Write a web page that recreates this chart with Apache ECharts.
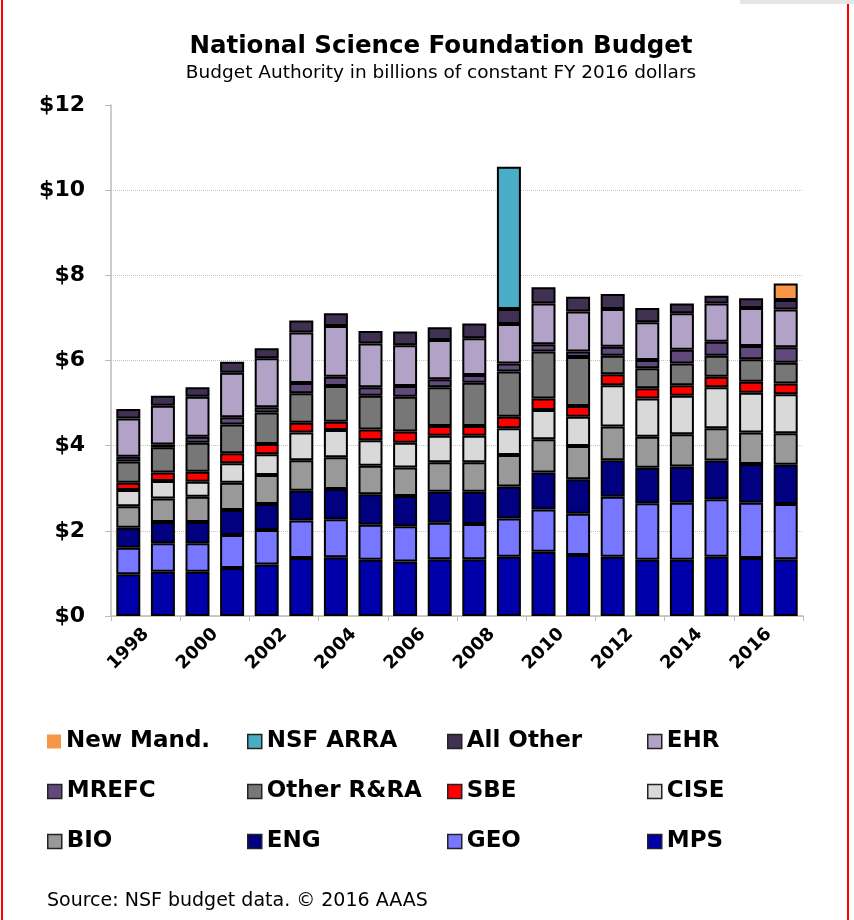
<!DOCTYPE html>
<html>
<head>
<meta charset="utf-8">
<script src="https://cdn.jsdelivr.net/npm/echarts@6/dist/echarts.min.js"></script>
<style>
  html, body { margin: 0; padding: 0; background: #fff; }
  #chart { width: 854px; height: 920px; }
</style>
</head>
<body>
<div id="chart"></div>
<script>
var years = ['1998','1999','2000','2001','2002','2003','2004','2005','2006','2007',
             '2008','2009','2010','2011','2012','2013','2014','2015','2016','2017'];
var yTicks = [0, 2, 4, 6, 8, 10, 12];

// billions of constant FY 2016 dollars
var mps      = [0.98, 1.04, 1.04, 1.13, 1.21, 1.36, 1.38, 1.32, 1.28, 1.33, 1.33, 1.39, 1.51, 1.43, 1.39, 1.32, 1.32, 1.39, 1.36, 1.33];
var geo      = [0.62, 0.67, 0.67, 0.77, 0.81, 0.88, 0.89, 0.82, 0.83, 0.86, 0.83, 0.90, 0.99, 0.97, 1.41, 1.33, 1.34, 1.35, 1.30, 1.30];
var eng      = [0.47, 0.50, 0.50, 0.59, 0.61, 0.70, 0.71, 0.72, 0.71, 0.73, 0.76, 0.75, 0.87, 0.81, 0.86, 0.83, 0.85, 0.91, 0.91, 0.92];
var bio      = [0.51, 0.55, 0.59, 0.64, 0.68, 0.72, 0.75, 0.67, 0.67, 0.69, 0.69, 0.74, 0.78, 0.78, 0.79, 0.73, 0.76, 0.76, 0.74, 0.74];
var cise     = [0.38, 0.41, 0.35, 0.46, 0.49, 0.65, 0.64, 0.60, 0.58, 0.62, 0.62, 0.63, 0.69, 0.69, 0.97, 0.90, 0.90, 0.96, 0.93, 0.92];
var sbe      = [0.17, 0.20, 0.24, 0.23, 0.24, 0.23, 0.19, 0.25, 0.26, 0.23, 0.23, 0.27, 0.27, 0.25, 0.26, 0.24, 0.25, 0.25, 0.26, 0.25];
var otherRRA = [0.50, 0.59, 0.68, 0.68, 0.74, 0.69, 0.84, 0.79, 0.82, 0.91, 1.02, 1.06, 1.10, 1.15, 0.43, 0.47, 0.51, 0.49, 0.53, 0.49];
var mrefc    = [0.11, 0.07, 0.14, 0.17, 0.12, 0.24, 0.22, 0.20, 0.25, 0.19, 0.18, 0.19, 0.17, 0.13, 0.21, 0.19, 0.32, 0.33, 0.31, 0.36];
var ehr      = [0.90, 0.91, 0.94, 1.04, 1.15, 1.19, 1.19, 1.03, 0.96, 0.92, 0.86, 0.93, 0.96, 0.94, 0.89, 0.89, 0.86, 0.90, 0.89, 0.89];
var allOther = [0.22, 0.23, 0.22, 0.26, 0.24, 0.28, 0.30, 0.29, 0.32, 0.30, 0.35, 0.35, 0.38, 0.35, 0.35, 0.33, 0.23, 0.18, 0.23, 0.22];
var arra     = ['-', '-', '-', '-', '-', '-', '-', '-', '-', '-', '-', 3.34, '-', '-', '-', '-', '-', '-', '-', '-'];
var newMand  = ['-', '-', '-', '-', '-', '-', '-', '-', '-', '-', '-', '-', '-', '-', '-', '-', '-', '-', '-', 0.39];

// legend grid, row by row
var legendRows = [
  ['New Mand.', 'NSF ARRA', 'All Other', 'EHR'],
  ['MREFC', 'Other R&RA', 'SBE', 'CISE'],
  ['BIO', 'ENG', 'GEO', 'MPS']
];

var font = 'DejaVu Sans';

var myChart = echarts.init(document.getElementById('chart'));

function seg(name, data, color) {
  return {
    name: name,
    type: 'bar',
    stack: 'total',
    barWidth: 24,
    data: data,
    itemStyle: {
      color: color,
      borderColor: '#000',
      borderWidth: 2
    }
  };
}

// one legend per entry so the columns line up like the original
var legends = [];
legendRows.forEach(function (row, r) {
  row.forEach(function (name, c) {
    var entry = name === 'New Mand.' ? { name: name, itemStyle: { borderWidth: 0 } } : name;
    legends.push({
      top: 725 + r * 50,
      left: 42 + c * 200,
      icon: 'rect',
      itemWidth: 14,
      itemHeight: 14,
      selectedMode: false,
      itemStyle: { borderColor: '#222', borderWidth: 1.5 },
      textStyle: { fontFamily: font, fontWeight: 'bold', fontSize: 23, color: '#000' },
      data: [entry]
    });
  });
});

var option = {
  backgroundColor: '#fff',
  animation: false,
  title: {
    text: 'National Science Foundation Budget',
    subtext: 'Budget Authority in billions of constant FY 2016 dollars',
    left: 436,
    textAlign: 'center',
    top: 29,
    itemGap: 5,
    textStyle: { fontFamily: font, fontWeight: 'bold', fontSize: 24.5, color: '#000' },
    subtextStyle: { fontFamily: font, fontSize: 18.5, color: '#000' }
  },
  legend: legends,
  grid: { left: 111, right: 51, top: 105, bottom: 304 },
  xAxis: {
    type: 'category',
    data: years,
    axisLine: { lineStyle: { color: '#bbb', width: 1.5 } },
    axisTick: { show: true, length: 5, lineStyle: { color: '#bbb' } },
    axisLabel: {
      interval: 1,
      rotate: 45,
      align: 'center',
      verticalAlign: 'middle',
      margin: 33,
      fontFamily: font,
      fontWeight: 'bold',
      fontSize: 18,
      color: '#000'
    }
  },
  yAxis: {
    type: 'value',
    min: yTicks[0],
    max: yTicks[yTicks.length - 1],
    interval: 2,
    axisLine: { show: true, lineStyle: { color: '#bbb', width: 1.5 } },
    axisTick: { show: true, length: 6, lineStyle: { color: '#bbb' } },
    splitLine: { show: true, showMaxLine: false, lineStyle: { color: '#c4c4c4', type: 'dotted' } },
    axisLabel: {
      margin: 26,
      fontFamily: font,
      fontWeight: 'bold',
      fontSize: 22,
      color: '#000',
      formatter: function (v) { return '$' + v; }
    }
  },
  graphic: [
    {
      type: 'rect',
      shape: { x: 2, y: -5, width: 846, height: 935 },
      style: { fill: null, stroke: '#ff0000', lineWidth: 2 }
    },
    {
      type: 'rect',
      shape: { x: 740, y: 0, width: 114, height: 4 },
      style: { fill: '#e6e6e6' }
    },
    {
      type: 'text',
      left: 47,
      top: 892,
      style: { text: 'Source: NSF budget data. \u00a9 2016 AAAS', font: '19px "DejaVu Sans"', fill: '#000' }
    }
  ],
  series: [
    seg('MPS', mps, '#0000aa'),
    seg('GEO', geo, '#7777ff'),
    seg('ENG', eng, '#000080'),
    seg('BIO', bio, '#999999'),
    seg('CISE', cise, '#d9d9d9'),
    seg('SBE', sbe, '#ff0000'),
    seg('Other R&RA', otherRRA, '#777777'),
    seg('MREFC', mrefc, '#604a7b'),
    seg('EHR', ehr, '#b3a2c7'),
    seg('All Other', allOther, '#403152'),
    seg('NSF ARRA', arra, '#4bacc6'),
    seg('New Mand.', newMand, '#f79646')
  ]
};

myChart.setOption(option);
</script>
</body>
</html>
